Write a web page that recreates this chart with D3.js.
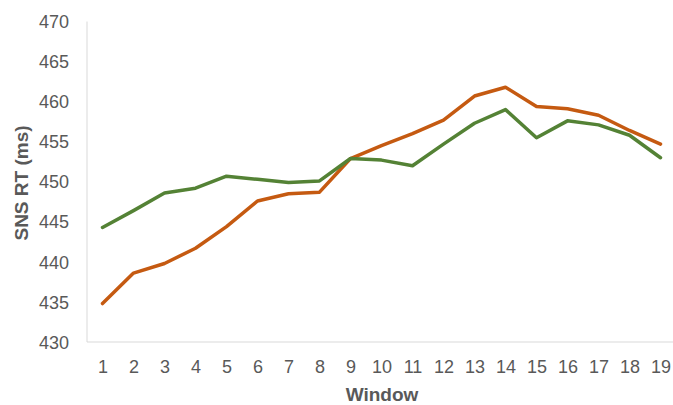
<!DOCTYPE html>
<html>
<head>
<meta charset="utf-8">
<script src="https://cdn.jsdelivr.net/npm/d3@7"></script>
<style>
  html, body { margin: 0; padding: 0; background: #fff; }
  svg { display: block; }
  text { font-family: "Liberation Sans", Arial, sans-serif; fill: #595959; }
</style>
</head>
<body>
<svg id="chart" width="673" height="405"></svg>
<script>
// Window numbers along the x axis
const windows = [1, 2, 3, 4, 5, 6, 7, 8, 9, 10, 11, 12, 13, 14, 15, 16, 17, 18, 19];
// Mean SNS reaction time per window (ms)
const orangeSeries = [434.8, 438.6, 439.8, 441.7, 444.4, 447.6, 448.5, 448.7, 452.9, 454.5,
                      456.0, 457.7, 460.7, 461.8, 459.4, 459.1, 458.3, 456.4, 454.7];
const greenSeries  = [444.3, 446.4, 448.6, 449.2, 450.7, 450.3, 449.9, 450.1, 452.9, 452.7,
                      452.0, 454.7, 457.3, 459.0, 455.5, 457.6, 457.1, 455.8, 453.0];
const yTicks = [430, 435, 440, 445, 450, 455, 460, 465, 470];

const svg = d3.select("#chart");
const plotLeft = 87, plotRight = 676, plotTop = 21.5, plotBottom = 342;

const x = d3.scalePoint().domain(windows).range([plotLeft, plotRight]).padding(0.5);
const y = d3.scaleLinear().domain([430, 470]).range([plotBottom, plotTop]);

// Axis lines
svg.append("line")
  .attr("x1", plotLeft).attr("x2", plotLeft).attr("y1", plotTop).attr("y2", plotBottom)
  .attr("stroke", "#d9d9d9").attr("stroke-width", 1);
svg.append("line")
  .attr("x1", plotLeft).attr("x2", 673).attr("y1", plotBottom).attr("y2", plotBottom)
  .attr("stroke", "#d9d9d9").attr("stroke-width", 1);

// Y tick labels
const yAxis = d3.axisLeft(y).tickValues(yTicks).tickSize(0).tickPadding(0);
const gy = svg.append("g").attr("transform", `translate(${plotLeft - 18},0)`).call(yAxis);
gy.select(".domain").remove();
gy.selectAll("text").style("font-size", "18px").attr("fill", "#595959").attr("dy", "0.34em");

// X tick labels
const xAxis = d3.axisBottom(x).tickSize(0).tickPadding(0);
const gx = svg.append("g").attr("transform", `translate(0,${plotBottom + 31})`).call(xAxis);
gx.select(".domain").remove();
gx.selectAll("text").style("font-size", "18px").attr("fill", "#595959").attr("dy", "0");

// Axis titles
svg.append("text")
  .attr("x", 382).attr("y", 401)
  .attr("text-anchor", "middle")
  .style("font-size", "19px").style("font-weight", "bold")
  .text("Window");
svg.append("text")
  .attr("transform", "translate(28,183) rotate(-90)")
  .attr("text-anchor", "middle")
  .style("font-size", "19px").style("font-weight", "bold")
  .text("SNS RT (ms)");

// Series lines
const line = d3.line()
  .x((d, i) => x(windows[i]))
  .y(d => y(d));

svg.append("path")
  .datum(orangeSeries)
  .attr("fill", "none")
  .attr("stroke", "#C55A11")
  .attr("stroke-width", 3.5)
  .attr("stroke-linejoin", "round")
  .attr("stroke-linecap", "round")
  .attr("d", line);

svg.append("path")
  .datum(greenSeries)
  .attr("fill", "none")
  .attr("stroke", "#548235")
  .attr("stroke-width", 3.5)
  .attr("stroke-linejoin", "round")
  .attr("stroke-linecap", "round")
  .attr("d", line);
</script>
</body>
</html>
